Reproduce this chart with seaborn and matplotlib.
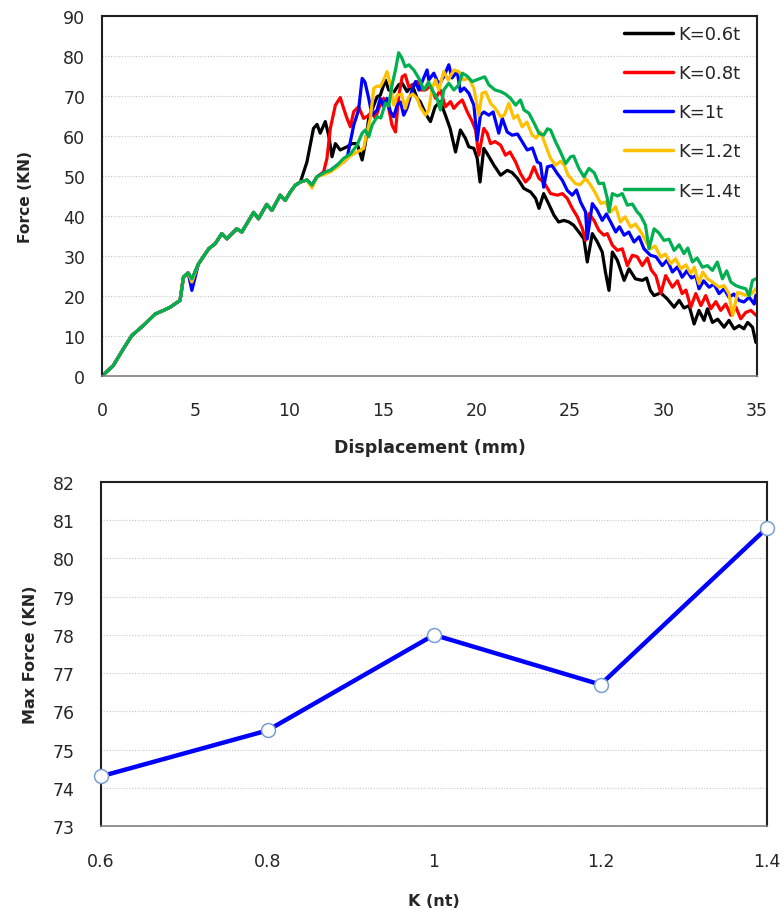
import numpy as np
import pandas as pd
import matplotlib
matplotlib.use("Agg")
import matplotlib.pyplot as plt
import seaborn as sns

# ---- data ----
# common loading part (all five curves overlap up to ~10 mm)
shared_x = [0.0, 0.6, 1.14, 1.59, 2.2, 2.84, 3.28, 3.64, 4.17, 4.35, 4.6]
shared_y = [0.0, 2.6, 6.8, 10.1, 12.6, 15.5, 16.4, 17.2, 18.9, 24.7, 25.8]
shared2_x = [5.15, 5.7, 6.05, 6.4, 6.67, 7.2, 7.47, 8.1, 8.36, 8.8, 9.08, 9.52, 9.79, 10.06]
shared2_y = [28.0, 31.8, 33.1, 35.6, 34.3, 36.8, 36.0, 40.9, 39.3, 42.9, 41.4, 45.2, 43.9, 46.0]
dip_y = {"K=0.6t": 24.0, "K=0.8t": 24.0, "K=1t": 21.4, "K=1.2t": 23.5, "K=1.4t": 24.3}

k06_x = [10.33, 10.6, 10.95, 11.3, 11.49, 11.66, 11.93, 12.11, 12.29, 12.47, 12.73, 13.09, 13.36, 13.63,
         13.9, 14.07, 14.25, 14.7, 14.87, 15.14, 15.32, 15.6, 15.85, 16.04, 16.3, 16.57, 16.84, 17.0, 17.3,
         17.55, 17.8, 18.08, 18.35, 18.6, 18.89, 19.15, 19.42, 19.6, 19.87, 20.05, 20.2, 20.4, 20.58, 20.94,
         21.3, 21.65, 21.9, 22.2, 22.54, 22.9, 23.17, 23.35, 23.6, 23.9, 24.15, 24.4, 24.68, 24.95, 25.2,
         25.48, 25.75, 25.93, 26.2, 26.47, 26.73, 26.9, 27.09, 27.27, 27.54, 27.9, 28.16, 28.5, 28.87, 29.1,
         29.3, 29.5, 29.85, 30.2, 30.57, 30.84, 31.1, 31.37, 31.64, 31.9, 32.17, 32.35, 32.62, 32.9, 33.24,
         33.5, 33.78, 34.05, 34.3, 34.5, 34.76, 34.94]
k06_y = [47.7, 48.5, 53.5, 61.9, 62.9, 60.7, 63.6, 60.2, 54.8, 58.1, 56.5, 57.3, 58.1, 58.1,
         54.0, 58.1, 64.4, 69.8, 70.2, 74.0, 71.5, 71.0, 72.8, 73.2, 71.1, 72.8, 69.4, 68.6, 65.5,
         63.6, 67.3, 68.6, 65.2, 61.9, 56.0, 61.5, 59.4, 57.3, 56.9, 54.4, 48.5, 56.9, 55.6, 52.7,
         50.2, 51.4, 50.9, 49.4, 46.9, 46.0, 44.4, 41.9, 45.6, 42.7, 40.2, 38.5, 38.9, 38.5, 37.7,
         36.0, 34.3, 28.5, 35.6, 33.5, 31.0, 26.0, 21.4, 31.0, 28.9, 23.9, 26.8, 24.3, 23.9, 24.5,
         21.4, 20.1, 20.8, 19.3, 17.2, 18.9, 17.0, 17.6, 13.0, 16.4, 13.9, 16.8, 13.4, 14.2, 12.2,
         13.9, 11.8, 12.6, 11.8, 13.4, 12.2, 8.4]

k08_x = [10.33, 10.6, 10.95, 11.22, 11.49, 11.84, 12.02, 12.2, 12.47, 12.73, 12.91, 13.09, 13.27, 13.45,
         13.71, 13.98, 14.2, 14.43, 14.6, 14.8, 15.05, 15.25, 15.5, 15.68, 15.85, 16.04, 16.2, 16.39, 16.6,
         16.84, 17.0, 17.28, 17.55, 17.82, 18.08, 18.35, 18.62, 18.8, 19.0, 19.25, 19.51, 19.78, 19.96,
         20.13, 20.4, 20.58, 20.76, 21.0, 21.3, 21.56, 21.8, 22.1, 22.36, 22.63, 22.85, 23.08, 23.35, 23.6,
         23.97, 24.33, 24.6, 24.86, 25.13, 25.4, 25.67, 25.84, 26.02, 26.29, 26.55, 26.82, 27.0, 27.27,
         27.54, 27.8, 28.07, 28.34, 28.6, 28.87, 29.14, 29.35, 29.6, 29.86, 30.12, 30.48, 30.75, 31.0, 31.2,
         31.46, 31.73, 32.0, 32.26, 32.53, 32.8, 33.06, 33.33, 33.6, 33.87, 34.13, 34.4, 34.67, 34.94]
k08_y = [47.7, 48.5, 49.0, 47.7, 49.8, 51.0, 54.4, 61.9, 67.7, 69.6, 66.9, 64.4, 62.3, 66.1,
         67.3, 64.4, 65.0, 66.1, 64.4, 67.0, 69.4, 68.5, 62.7, 61.0, 69.8, 74.8, 75.3, 72.3, 72.6,
         73.6, 71.5, 71.5, 72.5, 69.4, 71.5, 67.3, 68.6, 66.9, 68.0, 69.0, 66.1, 63.6, 61.5,
         55.2, 61.9, 60.7, 58.1, 58.6, 57.7, 55.2, 56.0, 53.5, 50.6, 48.5, 49.6, 52.3, 49.4, 48.5,
         45.6, 45.2, 45.6, 44.4, 41.9, 39.8, 36.8, 33.9, 40.6, 38.9, 36.4, 35.2, 35.6, 32.7,
         31.4, 31.8, 27.6, 30.2, 29.8, 27.6, 29.5, 26.5, 25.0, 20.6, 25.1, 22.2, 23.8, 20.6, 21.5,
         17.2, 20.6, 17.6, 20.1, 16.8, 18.6, 16.4, 18.0, 15.2, 17.2, 14.3, 15.9, 16.4, 15.2]

k10_x = [10.33, 10.6, 10.95, 11.22, 11.49, 11.93, 12.2, 12.56, 12.91, 13.09, 13.27, 13.45, 13.71, 13.9,
         14.05, 14.25, 14.43, 14.7, 14.87, 15.05, 15.23, 15.41, 15.59, 15.77, 15.95, 16.12, 16.3, 16.57,
         16.75, 16.93, 17.1, 17.37, 17.46, 17.73, 18.0, 18.26, 18.53, 18.7, 18.98, 19.15, 19.35, 19.6,
         19.87, 20.05, 20.22, 20.4, 20.67, 20.9, 21.2, 21.39, 21.65, 21.92, 22.2, 22.46, 22.72, 23.0, 23.26,
         23.43, 23.6, 23.8, 24.05, 24.33, 24.6, 24.86, 25.13, 25.35, 25.57, 25.84, 25.93, 26.2, 26.45,
         26.73, 26.95, 27.18, 27.45, 27.65, 27.9, 28.15, 28.43, 28.7, 28.96, 29.3, 29.6, 29.94, 30.2,
         30.48, 30.75, 31.0, 31.25, 31.5, 31.73, 31.9, 32.15, 32.44, 32.7, 32.97, 33.24, 33.5, 33.77,
         34.04, 34.3, 34.58, 34.85, 34.94]
k10_y = [47.7, 48.5, 49.0, 47.7, 49.8, 51.0, 51.4, 52.7, 53.5, 54.4, 58.5, 62.7, 66.5, 74.4,
         73.5, 69.4, 65.2, 66.5, 69.4, 67.5, 69.4, 66.1, 64.8, 67.7, 68.5, 65.2, 67.0, 71.5,
         73.6, 71.5, 73.5, 76.5, 74.0, 75.7, 72.8, 74.8, 77.8, 74.5, 76.1, 71.1, 72.0, 70.7,
         67.7, 59.0, 65.2, 66.0, 65.2, 66.0, 60.7, 64.4, 61.0, 60.2, 60.5, 58.5, 56.5, 57.0, 53.5,
         53.1, 47.2, 52.3, 52.6, 50.6, 48.9, 46.4, 45.2, 46.5, 43.5, 41.0, 34.3, 43.1, 41.5,
         38.9, 40.5, 38.5, 36.0, 37.3, 35.2, 36.0, 33.5, 34.8, 31.8, 30.2, 29.8, 27.6, 29.0,
         26.0, 27.3, 24.7, 26.3, 24.5, 25.1, 21.8, 23.8, 22.2, 23.0, 20.6, 21.8, 19.7, 20.5,
         18.9, 18.5, 19.7, 18.0, 20.2]

k12_x = [10.33, 10.6, 10.95, 11.22, 11.49, 11.93, 12.2, 12.56, 12.91, 13.27, 13.63, 13.98, 14.16, 14.34,
         14.52, 14.7, 14.87, 15.05, 15.23, 15.41, 15.59, 15.77, 16.0, 16.2, 16.39, 16.6, 16.84, 17.0, 17.28,
         17.46, 17.64, 17.82, 18.0, 18.26, 18.5, 18.8, 19.07, 19.33, 19.6, 19.87, 20.13, 20.31, 20.5, 20.76,
         21.0, 21.3, 21.5, 21.74, 22.0, 22.2, 22.45, 22.7, 22.99, 23.2, 23.43, 23.7, 23.97, 24.24, 24.5,
         24.7, 24.9, 25.3, 25.55, 25.84, 26.1, 26.38, 26.65, 26.9, 27.18, 27.45, 27.7, 27.95, 28.25, 28.5,
         28.8, 29.04, 29.3, 29.55, 29.86, 30.1, 30.39, 30.65, 30.93, 31.2, 31.46, 31.65, 31.9, 32.1, 32.35,
         32.62, 32.97, 33.24, 33.5, 33.7, 33.96, 34.23, 34.5, 34.7, 34.94]
k12_y = [47.7, 48.5, 49.0, 47.0, 49.8, 50.5, 51.0, 52.2, 53.5, 55.0, 56.0, 56.9, 61.0, 64.4,
         71.9, 72.5, 72.3, 74.0, 76.1, 72.8, 67.7, 70.2, 70.5, 66.9, 69.8, 70.5, 69.4, 67.3, 65.2,
         66.5, 72.0, 74.0, 71.5, 76.1, 74.0, 76.5, 76.1, 74.0, 74.5, 71.9, 65.2, 70.7, 71.0, 68.2,
         67.0, 64.8, 65.2, 68.2, 64.4, 65.2, 62.3, 63.5, 60.2, 59.5, 61.0, 57.7, 54.4, 52.7, 53.7,
         52.7, 50.2, 48.1, 47.8, 49.4, 47.8, 45.6, 43.1, 43.5, 41.0, 42.3, 38.5, 39.8, 37.2, 38.0,
         36.0, 33.9, 31.8, 32.5, 29.7, 30.5, 28.1, 29.3, 26.8, 27.8, 25.6, 27.2, 23.1, 26.0, 24.3,
         23.5, 22.2, 22.6, 20.6, 15.1, 20.9, 20.5, 20.1, 20.5, 21.8]

k14_x = [10.33, 10.6, 10.95, 11.22, 11.49, 11.93, 12.2, 12.56, 12.91, 13.27, 13.63, 13.9, 14.07, 14.25,
         14.43, 14.7, 14.9, 15.14, 15.32, 15.5, 15.68, 15.85, 16.02, 16.2, 16.39, 16.66, 16.93, 17.2, 17.45,
         17.64, 17.9, 18.08, 18.26, 18.53, 18.8, 19.07, 19.25, 19.5, 19.78, 20.0, 20.22, 20.45, 20.67, 21.0,
         21.3, 21.55, 21.83, 22.1, 22.36, 22.55, 22.81, 23.08, 23.35, 23.6, 23.8, 23.97, 24.24, 24.5, 24.77,
         25.04, 25.2, 25.48, 25.75, 26.02, 26.3, 26.55, 26.8, 27.0, 27.09, 27.27, 27.55, 27.8, 28.07, 28.34,
         28.6, 28.77, 29.04, 29.23, 29.5, 29.75, 30.03, 30.3, 30.57, 30.84, 31.1, 31.3, 31.55, 31.8, 32.08,
         32.35, 32.62, 32.88, 33.15, 33.38, 33.6, 33.87, 34.1, 34.4, 34.58, 34.76, 34.94]
k14_y = [47.7, 48.5, 49.0, 47.7, 49.8, 51.0, 51.4, 52.7, 54.4, 55.5, 57.7, 60.7, 61.5, 59.8,
         62.7, 64.8, 64.5, 68.2, 67.5, 72.8, 76.5, 80.8, 79.5, 77.3, 77.8, 76.5, 74.4, 71.5, 73.5,
         71.5, 69.4, 66.5, 71.5, 73.2, 71.5, 72.8, 75.7, 75.0, 73.6, 74.0, 74.4, 74.8, 72.8, 71.5,
         71.1, 70.5, 69.4, 67.7, 69.0, 66.5, 65.7, 63.3, 60.7, 60.2, 61.8, 61.5, 58.5, 56.0, 53.1,
         54.8, 55.0, 51.9, 49.8, 51.9, 50.8, 48.1, 48.2, 44.4, 41.0, 45.6, 45.0, 45.6, 42.7, 43.0,
         41.0, 40.2, 37.7, 31.8, 36.8, 35.8, 33.9, 34.2, 31.4, 32.8, 30.6, 32.0, 28.5, 29.5, 27.2,
         27.6, 26.4, 28.5, 24.3, 26.3, 23.5, 22.6, 22.2, 21.8, 20.1, 23.9, 24.3]

labels = ["K=0.6t", "K=0.8t", "K=1t", "K=1.2t", "K=1.4t"]
tails = {"K=0.6t": (k06_x, k06_y), "K=0.8t": (k08_x, k08_y), "K=1t": (k10_x, k10_y),
         "K=1.2t": (k12_x, k12_y), "K=1.4t": (k14_x, k14_y)}
colors = ["#000000", "#FF0000", "#0000FF", "#FFC000", "#00B050"]

# max force vs K
k_vals = [0.6, 0.8, 1.0, 1.2, 1.4]
k_ticklabels = ["0.6", "0.8", "1", "1.2", "1.4"]
max_force = [74.3, 75.5, 78.0, 76.7, 80.8]

# build long table for seaborn
rows = []
for lab in labels:
    tx, ty = tails[lab]
    xs = shared_x + [4.8] + shared2_x + tx
    ys = shared_y + [dip_y[lab]] + shared2_y + ty
    for x, y in zip(xs, ys):
        rows.append((lab, x, y))
df = pd.DataFrame(rows, columns=["K", "disp", "force"])
df_max = pd.DataFrame({"K": k_vals, "F": max_force})

sns.set_style("white")
plt.rcParams["font.family"] = ["DejaVu Sans"]
plt.rcParams["font.size"] = 12.5

fig = plt.figure(figsize=(7.83, 9.12), dpi=100)
ax1 = fig.add_axes([0.1303, 0.5866, 0.8365, 0.3948])
ax2 = fig.add_axes([0.129, 0.0932, 0.8506, 0.3772])

# top: force vs displacement
sns.lineplot(data=df, x="disp", y="force", hue="K", hue_order=labels, palette=colors,
             estimator=None, sort=False, linewidth=2.3, ax=ax1)

ax1.set_xlim(0, 35)
ax1.set_ylim(0, 90)
ax1.set_xticks(range(0, 36, 5))
ax1.set_yticks(range(0, 91, 10))
ax1.yaxis.grid(True, linestyle=(0, (1, 1.5)), color="#c8c8c8", linewidth=0.8)
ax1.set_axisbelow(True)
ax1.tick_params(axis="y", direction="out", length=5, color="#808080", pad=7, labelsize=12.5)
ax1.tick_params(axis="x", direction="out", length=5, color="#808080", pad=13, labelsize=12.5)
ax1.set_xlabel("Displacement (mm)", fontweight="bold", fontsize=12.5, va="top")
ax1.set_ylabel("Force (KN)", fontweight="bold", fontsize=11.2)
ax1.xaxis.set_label_coords(0.5, -0.172)
ax1.yaxis.set_label_coords(-0.105, 0.5)
for s in ["top", "right", "left"]:
    ax1.spines[s].set_color("#202020")
    ax1.spines[s].set_linewidth(1.5)
ax1.spines["bottom"].set_color("#808080")
ax1.spines["bottom"].set_linewidth(1.2)

leg = ax1.legend(loc="upper right", bbox_to_anchor=(1.0, 1.02), frameon=False,
                 handlelength=2.75, handletextpad=0.28, labelspacing=1.17, fontsize=13)
for line in leg.get_lines():
    line.set_linewidth(2.5)

# bottom: max force vs K
sns.lineplot(data=df_max, x="K", y="F", color="#0000FF", linewidth=3.2, marker="o",
             markersize=10, markerfacecolor="white", markeredgecolor="#7a9fd0",
             markeredgewidth=1.1, ax=ax2, clip_on=False, zorder=5)
ax2.set_xlim(0.6, 1.4)
ax2.set_ylim(73, 82)
ax2.set_xticks(k_vals)
ax2.set_xticklabels(k_ticklabels)
ax2.set_yticks(range(73, 83))
ax2.yaxis.grid(True, linestyle=(0, (1, 1.5)), color="#c8c8c8", linewidth=0.8)
ax2.set_axisbelow(True)
ax2.tick_params(axis="y", direction="out", length=7, color="#808080", pad=12, labelsize=12.5)
ax2.tick_params(axis="x", direction="out", length=7, color="#808080", pad=12, labelsize=12.5)
ax2.set_xlabel("K (nt)", fontweight="bold", fontsize=11.5, va="top")
ax2.set_ylabel("Max Force (KN)", fontweight="bold", fontsize=11.5)
ax2.xaxis.set_label_coords(0.5, -0.195)
ax2.yaxis.set_label_coords(-0.095, 0.5)
for s in ["top", "right", "left"]:
    ax2.spines[s].set_color("#202020")
    ax2.spines[s].set_linewidth(1.5)
ax2.spines["bottom"].set_color("#808080")
ax2.spines["bottom"].set_linewidth(1.2)

fig.savefig("out.png", dpi=100, facecolor="white")
